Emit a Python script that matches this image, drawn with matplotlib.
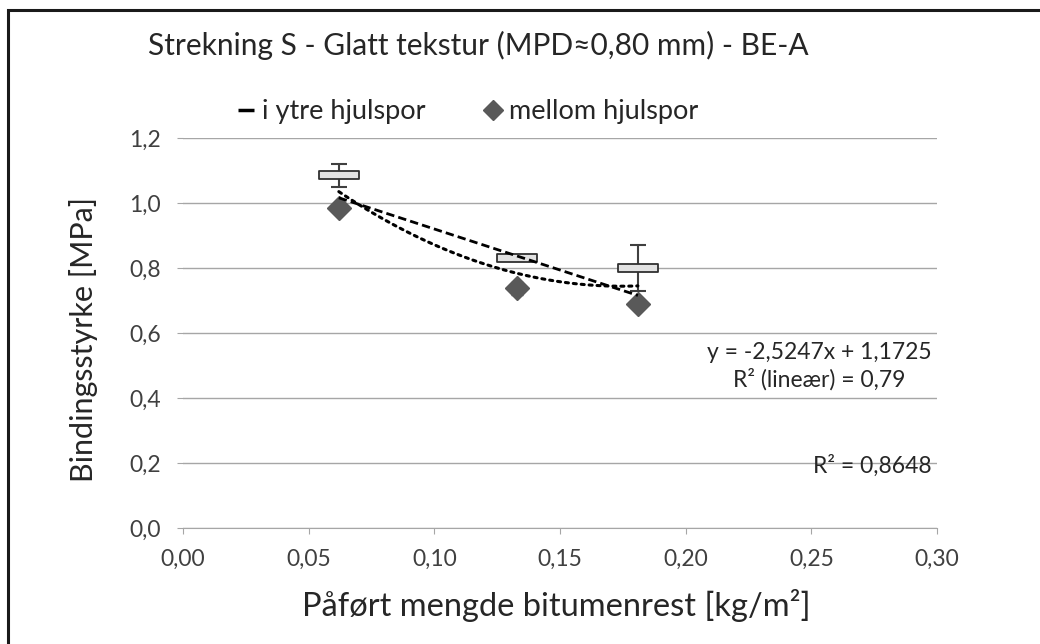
import numpy as np
import matplotlib.pyplot as plt
from matplotlib.path import Path
from matplotlib.lines import Line2D
from matplotlib.patches import Rectangle
from matplotlib.ticker import FuncFormatter, MultipleLocator

plt.rcParams['font.family'] = ['Lato', 'DejaVu Sans']

# bitumenrest [kg/m2] og bindingsstyrke [MPa]
x_mengde = [0.062, 0.133, 0.181]
ytre = [1.085, 0.830, 0.800]
ytre_err = [0.035, 0.008, 0.070]
mellom = [0.985, 0.737, 0.690]
mellom_err = [0.008, 0.020, 0.010]

# trendlinje oppgitt i diagrammet
lin_a, lin_b = -2.5247, 1.1725

fig = plt.figure(figsize=(10.4, 6.44), dpi=100)
ax = fig.add_axes([183/1040, 1-528/644, (937-183)/1040, (528-138)/644])

# boks-markør (bred rektangel)
boks = Path([(-0.5, -0.1), (0.5, -0.1), (0.5, 0.1), (-0.5, 0.1), (-0.5, -0.1)],
            [Path.MOVETO, Path.LINETO, Path.LINETO, Path.LINETO, Path.CLOSEPOLY])

ax.errorbar(x_mengde, ytre, yerr=ytre_err, fmt='none', ecolor='#404040',
            elinewidth=1.5, capsize=6, capthick=1.5, zorder=3)
ax.plot(x_mengde, ytre, ls='none', marker=boks, ms=29, mfc='#e2e2e2',
        mec='#303030', mew=1.3, zorder=4)

ax.errorbar(x_mengde, mellom, yerr=mellom_err, fmt='none', ecolor='#595959',
            elinewidth=1.5, capsize=4, zorder=3)
ax.plot(x_mengde, mellom, ls='none', marker='D', ms=12, color='#595959', zorder=4)

# lineær trend (stiplet) og 2. ordens polynom (prikket) for alle punkter
xx = np.linspace(min(x_mengde), max(x_mengde), 100)
ax.plot(xx, lin_a*xx + lin_b, color='black', lw=2, ls=(0, (3, 1.5)), zorder=5)
alle_x = np.array(x_mengde*2)
alle_y = np.array(ytre + mellom)
p2 = np.polyfit(alle_x, alle_y, 2)
ax.plot(xx, np.polyval(p2, xx), color='black', lw=2.2, ls=(0, (1, 1.6)),
        dash_capstyle='round', zorder=5)

ax.set_xlim(0, 0.30)
ax.set_ylim(0, 1.2)
ax.xaxis.set_major_locator(MultipleLocator(0.05))
ax.yaxis.set_major_locator(MultipleLocator(0.2))
ax.xaxis.set_major_formatter(FuncFormatter(lambda v, p: f'{v:.2f}'.replace('.', ',')))
ax.yaxis.set_major_formatter(FuncFormatter(lambda v, p: f'{v:.1f}'.replace('.', ',')))
ax.grid(axis='y', color='#a6a6a6', lw=1)
ax.set_axisbelow(True)
for s in ['top', 'right', 'left']:
    ax.spines[s].set_visible(False)
ax.spines['bottom'].set_color('#a6a6a6')
ax.tick_params(axis='x', colors='#a6a6a6', labelcolor='#404040', labelsize=16.5,
               length=4, pad=11)
ax.tick_params(axis='y', colors='#a6a6a6', labelcolor='#404040', labelsize=16.5,
               length=4, pad=12)

fig.text(478/1040, 1-45/644, 'Strekning S - Glatt tekstur (MPD≈0,80 mm) - BE-A',
         ha='center', va='center', fontsize=21.5, color='#262626')
fig.text(84/1040, 1-340/644, 'Bindingsstyrke [MPa]', rotation=90,
         ha='center', va='center', fontsize=22, color='#262626')
fig.text(556/1040, 1-605/644, 'Påført mengde bitumenrest [kg/m²]',
         ha='center', va='center', fontsize=23.5, color='#262626')

ax.text(0.298, 0.497, 'y = -2,5247x + 1,1725\nR² (lineær) = 0,79',
        ha='right', va='center', multialignment='center', fontsize=16.5,
        color='#262626', linespacing=1.3)
ax.text(0.298, 0.19, 'R² = 0,8648', ha='right', va='center',
        fontsize=16.5, color='#262626')

handles = [Line2D([], [], ls='none', marker='_', color='black', ms=11, mew=2.5),
           Line2D([], [], ls='none', marker='D', color='#595959', ms=10)]
fig.legend(handles, ['i ytre hjulspor', 'mellom hjulspor'], loc='center',
           bbox_to_anchor=(468/1040, 1-112/644), ncol=2, frameon=False,
           fontsize=19.5, handlelength=0.6, handletextpad=0.3, columnspacing=2.2,
           labelcolor='#262626')

# ramme rundt figuren
fig.patches.append(Rectangle((8/1040, -0.1), 1.2, 1-10/644+0.1,
                             transform=fig.transFigure, fill=False,
                             ec='#1a1a1a', lw=2.2))

fig.savefig('out.png', dpi=100)
